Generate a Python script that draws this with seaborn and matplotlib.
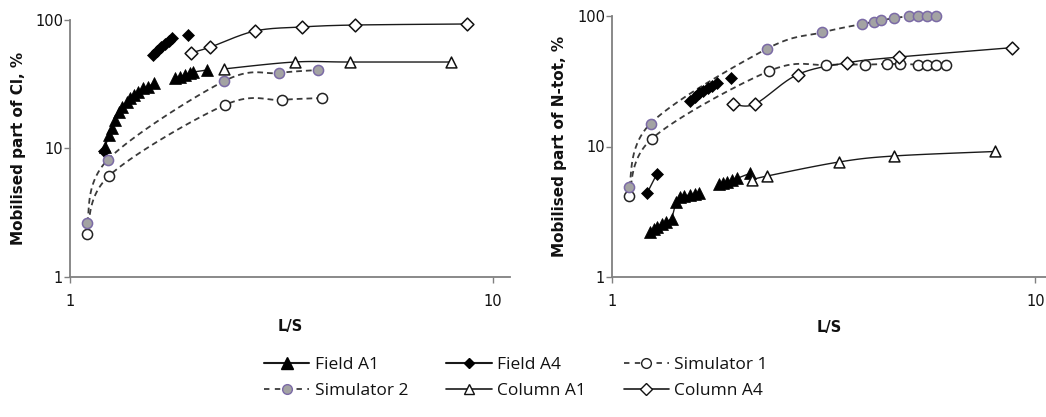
import numpy as np
import matplotlib
matplotlib.use("Agg")
import matplotlib.pyplot as plt
import seaborn as sns
from matplotlib.lines import Line2D

sns.set_theme(style="white")
plt.rcParams['font.family'] = ['DejaVu Sans']

nan = np.nan

# ---------------- Left panel: Cl ----------------
cl_field_a1_x = [1.21, 1.236, 1.257, 1.278, 1.306, 1.327, 1.364, 1.386, 1.416, 1.448, 1.488, 1.529, 1.580,
                 nan, 1.771, 1.82, 1.87, 1.92, 1.96, 2.11]
cl_field_a1_y = [10.2, 12.7, 14.4, 16.7, 19.2, 21.0, 23.0, 24.7, 26.1, 27.5, 29.6, 30.1, 32.3,
                 nan, 35.4, 36.0, 37.3, 38.7, 39.4, 40.8]
cl_field_a4_x = [1.203, nan, 1.571, 1.606, 1.641, 1.677, 1.714, 1.742, nan, 1.901]
cl_field_a4_y = [9.56, nan, 53.4, 57.4, 61.6, 65.1, 68.6, 72.4, nan, 76.4]
cl_sim1_x = [1.097, 1.236, 2.325, 3.17, 3.94]
cl_sim1_y = [2.16, 6.11, 21.8, 23.9, 24.7]
cl_sim2_x = [1.097, 1.227, 2.318, 3.12, 3.86]
cl_sim2_y = [2.63, 8.14, 33.5, 38.7, 40.8]
cl_col_a1_x = [2.31, 3.40, 4.59, 7.96]
cl_col_a1_y = [41.6, 47.1, 47.1, 47.1]
cl_col_a4_x = [1.93, 2.15, 2.74, 3.55, 4.72, 8.68]
cl_col_a4_y = [55.4, 61.6, 82.1, 88.3, 91.4, 93.1]

# ---------------- Right panel: N-tot ----------------
n_field_a1_x = [1.230, 1.257, 1.280, 1.311, 1.340, 1.384, 1.417, 1.448, 1.482, 1.529, 1.571, 1.606,
                nan, 1.794, 1.833, 1.874, 1.925, 1.978, 2.119]
n_field_a1_y = [2.22, 2.32, 2.43, 2.55, 2.65, 2.78, 3.78, 4.08, 4.18, 4.25, 4.30, 4.38,
                nan, 5.13, 5.22, 5.37, 5.54, 5.71, 6.23]
n_field_a4_x = [1.212, 1.275, nan, 1.529, 1.571, 1.606, 1.643, 1.684, 1.721, 1.768, nan, 1.911]
n_field_a4_y = [4.43, 6.12, nan, 22.4, 24.1, 25.6, 26.8, 27.9, 29.1, 30.5, nan, 33.7]
n_sim1_x = [1.097, 1.243, 2.351, 3.206, 3.963, 4.467, 4.797, 5.29, 5.55, 5.83, 6.14]
n_sim1_y = [4.18, 11.5, 37.9, 42.1, 42.4, 42.9, 42.9, 42.4, 42.4, 42.4, 42.4]
n_sim2_x = [1.097, 1.233, 2.318, 3.138, 3.90, 4.16, 4.32, 4.64, 5.04, 5.29, 5.55, 5.83]
n_sim2_y = [4.89, 15.0, 55.9, 74.8, 86.9, 90.4, 92.4, 96.5, 99.5, 100, 100, 100]
n_col_a1_x = [2.143, 2.325, 3.44, 4.64, 8.04]
n_col_a1_y = [5.54, 5.94, 7.61, 8.46, 9.16]
n_col_a4_x = [1.932, 2.178, 2.745, 3.59, 4.76, 8.81]
n_col_a4_y = [21.2, 21.2, 35.6, 43.8, 48.5, 57.2]

ylabels = ["Mobilised part of Cl, %", "Mobilised part of N-tot, %"]
xlabel = "L/S"
legend_labels = ["Field A1", "Field A4", "Simulator 1", "Simulator 2", "Column A1", "Column A4"]

SOLID = "#1a1a1a"
DASH = "#3a3a3a"
GREY_FILL = "#a3a3a3"
PURPLE_EDGE = "#7b6aa6"
SPINE = "#808080"

XS, YS = 423.0, 129.0


def segments(x, y):
    x = np.asarray(x, float)
    y = np.asarray(y, float)
    breaks = np.where(np.isnan(x))[0]
    start = 0
    for b in list(breaks) + [len(x)]:
        if b > start:
            yield x[start:b], y[start:b]
        start = b + 1


def smooth(x, y, n=30):
    P = np.column_stack([np.log10(x) * XS, np.log10(y) * YS])
    out = []
    for i in range(len(P) - 1):
        p0 = P[i - 1] if i > 0 else P[i]
        p1, p2 = P[i], P[i + 1]
        p3 = P[i + 2] if i + 2 < len(P) else P[i + 1]
        c1 = p1 + (p2 - p0) / 6.0
        c2 = p2 - (p3 - p1) / 6.0
        t = np.linspace(0, 1, n)[:, None]
        B = (1 - t) ** 3 * p1 + 3 * (1 - t) ** 2 * t * c1 + 3 * (1 - t) * t ** 2 * c2 + t ** 3 * p2
        out.append(B if i == 0 else B[1:])
    B = np.vstack(out)
    return 10 ** (B[:, 0] / XS), 10 ** (B[:, 1] / YS)


def field(ax, x, y, marker, ms):
    for sx, sy in segments(x, y):
        sns.lineplot(x=sx, y=sy, ax=ax, color=SOLID, lw=1.0, marker=marker, ms=ms,
                     markerfacecolor="black", markeredgecolor="black", markeredgewidth=0.5,
                     estimator=None, sort=False, zorder=4)


def curve(ax, x, y, marker, ms, ls, lc, fc, ec, lw):
    sx, sy = smooth(x, y)
    sns.lineplot(x=sx, y=sy, ax=ax, color=lc, lw=lw, linestyle=ls, estimator=None, sort=False, zorder=2)
    sns.scatterplot(x=x, y=y, ax=ax, marker=marker, s=ms ** 2, facecolor=fc, edgecolor=ec,
                    linewidth=1.1, zorder=5, clip_on=False)


fig = plt.figure(figsize=(10.46, 4.17), dpi=100)
ax1 = fig.add_axes([70 / 1046, 1 - 277 / 417, 440 / 1046, 257 / 417])
ax2 = fig.add_axes([612 / 1046, 1 - 277 / 417, 434 / 1046, 261 / 417])

panels = [
    (ax1, cl_field_a1_x, cl_field_a1_y, cl_field_a4_x, cl_field_a4_y, cl_sim1_x, cl_sim1_y,
     cl_sim2_x, cl_sim2_y, cl_col_a1_x, cl_col_a1_y, cl_col_a4_x, cl_col_a4_y, 11.0),
    (ax2, n_field_a1_x, n_field_a1_y, n_field_a4_x, n_field_a4_y, n_sim1_x, n_sim1_y,
     n_sim2_x, n_sim2_y, n_col_a1_x, n_col_a1_y, n_col_a4_x, n_col_a4_y, 10.6),
]

for k, (ax, fa1x, fa1y, fa4x, fa4y, s1x, s1y, s2x, s2y, ca1x, ca1y, ca4x, ca4y, xmax) in enumerate(panels):
    ax.set_xscale("log")
    ax.set_yscale("log")
    curve(ax, s1x, s1y, "o", 7.3, (0, (3.2, 2.2)), DASH, "white", "#222222", 1.3)
    curve(ax, s2x, s2y, "o", 7.3, (0, (3.2, 2.2)), DASH, GREY_FILL, PURPLE_EDGE, 1.3)
    curve(ax, ca1x, ca1y, "^", 7.8, "-", SOLID, "white", "#111111", 1.0)
    curve(ax, ca4x, ca4y, "D", 6.5, "-", SOLID, "white", "#111111", 1.0)
    field(ax, fa1x, fa1y, "^", 8.2)
    field(ax, fa4x, fa4y, "D", 6.0)

    ax.set_xlim(1, xmax)
    ax.set_ylim(1, 100)
    ax.set_xticks([1, 10])
    ax.set_xticklabels(["1", "10"])
    ax.set_yticks([1, 10, 100])
    ax.set_yticklabels(["1", "10", "100"])
    ax.minorticks_off()
    for s in ["top", "right"]:
        ax.spines[s].set_visible(False)
    for s in ["left", "bottom"]:
        ax.spines[s].set_color(SPINE)
        ax.spines[s].set_linewidth(1.3)
    ax.tick_params(axis="both", direction="out", length=4, width=1.0, color=SPINE,
                   labelsize=10.5, labelcolor="#111111", left=True, bottom=True)
    ax.tick_params(axis="x", pad=8)
    ax.tick_params(axis="y", pad=1)
    ax.set_ylabel(ylabels[k], fontsize=11, fontweight="bold", color="#111111")
    ax.set_xlabel(xlabel, fontsize=10.5, fontweight="bold", color="#111111")
    ax.yaxis.set_label_coords(-0.10 if k == 0 else -0.104, 0.5)
    ax.xaxis.set_label_coords(0.5, -0.165)
    ax.grid(False)

# legend
h_field_a1 = Line2D([], [], color=SOLID, lw=1.5, marker="^", ms=8, mfc="black", mec="black")
h_field_a4 = Line2D([], [], color=SOLID, lw=1.5, marker="D", ms=5.5, mfc="black", mec="black")
h_sim1 = Line2D([], [], color=DASH, lw=1.3, ls=(0, (3, 3)), marker="o", ms=7, mfc="white", mec="#222222")
h_sim2 = Line2D([], [], color=DASH, lw=1.3, ls=(0, (3, 3)), marker="o", ms=7, mfc=GREY_FILL, mec=PURPLE_EDGE)
h_col_a1 = Line2D([], [], color=SOLID, lw=1.2, marker="^", ms=7, mfc="white", mec="#111111")
h_col_a4 = Line2D([], [], color=SOLID, lw=1.2, marker="D", ms=6, mfc="white", mec="#111111")

handles = [h_field_a1, h_sim2, h_field_a4, h_col_a1, h_sim1, h_col_a4]
labels = [legend_labels[0], legend_labels[3], legend_labels[1], legend_labels[4], legend_labels[2], legend_labels[5]]
leg = fig.legend(handles, labels, loc="center", bbox_to_anchor=(516 / 1046, 1 - 378 / 417), ncol=3,
                 frameon=False, prop={"family": "Open Sans", "size": 12.5}, handlelength=2.6,
                 handletextpad=0.3, columnspacing=2.2, labelspacing=0.55)
for t in leg.get_texts():
    t.set_color("#111111")

fig.savefig("out.png", dpi=100)
